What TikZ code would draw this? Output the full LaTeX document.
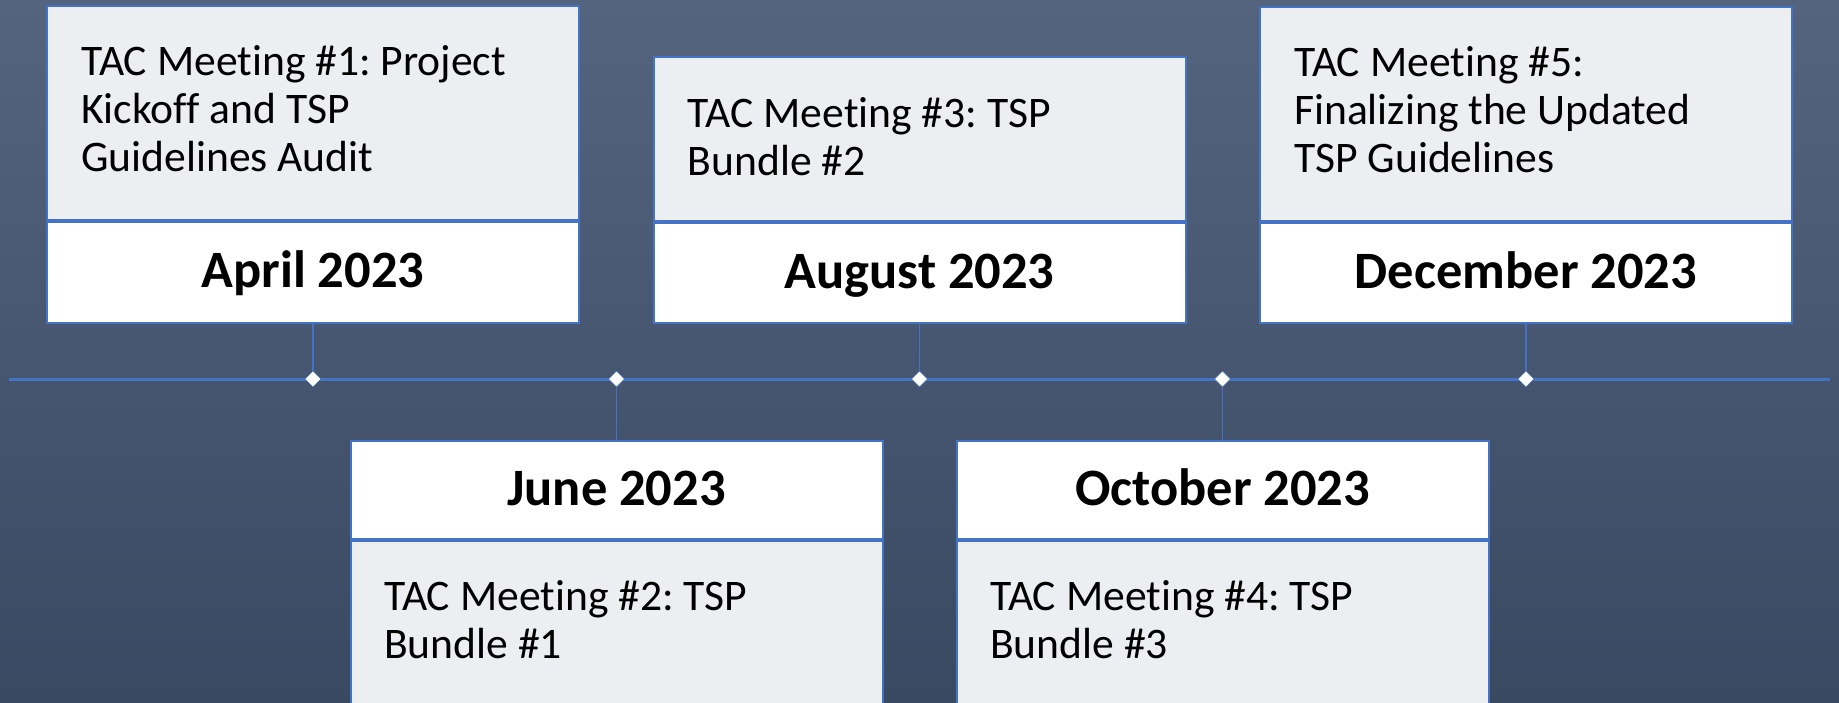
\documentclass[tikz,border=0pt]{standalone}
\usepackage{fontspec}
\setmainfont[Ligatures=NoCommon]{Carlito}
\usetikzlibrary{shapes.geometric}
\definecolor{bgtop}{HTML}{54647F}
\definecolor{bgbot}{HTML}{3A4962}
\definecolor{lineblue}{HTML}{4472C4}
\definecolor{descfill}{HTML}{EDEEF2}
\begin{document}
\frenchspacing
\begin{tikzpicture}[x=1pt,y=-1pt,
  datebox/.style={draw=lineblue, line width=2pt, fill=white, minimum width=532pt, inner sep=0pt, text height=31pt, text depth=0pt, font=\fontsize{52.5}{60}\selectfont\bfseries},
  descbox/.style={draw=lineblue, line width=2pt, fill=descfill, minimum width=532pt, inner sep=0pt},
  desctext/.style={anchor=base west, inner sep=0pt, font=\fontsize{43.6}{48}\selectfont},
  stem/.style={draw=lineblue, line width=1.3pt},
  tline/.style={draw=lineblue, line width=3pt},
  dmd/.style={diamond, fill=white, draw=lineblue, line width=0.5pt, inner sep=0pt, minimum width=16pt, minimum height=16pt}
]
\clip (0,0) rectangle (1839,703);
\shade[top color=bgtop, bottom color=bgbot] (0,0) rectangle (1839,703);

% top boxes
\node[descbox, minimum height=214pt, anchor=north] (d1) at (313,5) {};
\node[datebox, minimum height=101pt, anchor=north] (a1) at (d1.south) {April 2023};
\node[desctext] (t1) at (81,76) {\parbox[t]{480pt}{TAC Meeting \#1: Project\\Kickoff and TSP\\Guidelines Audit}};

\node[descbox, minimum height=164pt, anchor=north] (d3) at (919.5,56) {};
\node[datebox, minimum height=100pt, anchor=north] (a3) at (d3.south) {August 2023};
\node[desctext] (t3) at (687.5,128) {\parbox[t]{480pt}{TAC Meeting \#3: TSP\\Bundle \#2}};

\node[descbox, minimum height=214pt, anchor=north] (d5) at (1526,6) {};
\node[datebox, minimum height=100pt, anchor=north] (a5) at (d5.south) {December 2023};
\node[desctext] (t5) at (1294,77) {\parbox[t]{480pt}{TAC Meeting \#5:\\Finalizing the Updated\\TSP Guidelines}};

% bottom boxes
\node[datebox, minimum height=98pt, anchor=north] (a2) at (616.5,440) {June 2023};
\node[descbox, minimum height=230pt, anchor=north] (d2) at (a2.south) {};
\node[desctext] (t2) at (384,610) {\parbox[t]{480pt}{TAC Meeting \#2: TSP\\Bundle \#1}};

\node[datebox, minimum height=98pt, anchor=north] (a4) at (1222.5,440) {October 2023};
\node[descbox, minimum height=230pt, anchor=north] (d4) at (a4.south) {};
\node[desctext] (t4) at (990,610) {\parbox[t]{480pt}{TAC Meeting \#4: TSP\\Bundle \#3}};

% timeline
\coordinate (tlL) at (9,379);
\coordinate (tlR) at (1830,379);
\draw[tline] (tlL) -- (tlR);
\node[dmd] (m1) at (313,379) {};
\node[dmd] (m2) at (616.5,379) {};
\node[dmd] (m3) at (919.5,379) {};
\node[dmd] (m4) at (1222.5,379) {};
\node[dmd] (m5) at (1526,379) {};

% stems
\draw[stem] (a1.south) -- (m1.north);
\draw[stem] (a3.south) -- (m3.north);
\draw[stem] (a5.south) -- (m5.north);
\draw[stem] (m2.south) -- (a2.north);
\draw[stem] (m4.south) -- (a4.north);
\end{tikzpicture}
\end{document}
